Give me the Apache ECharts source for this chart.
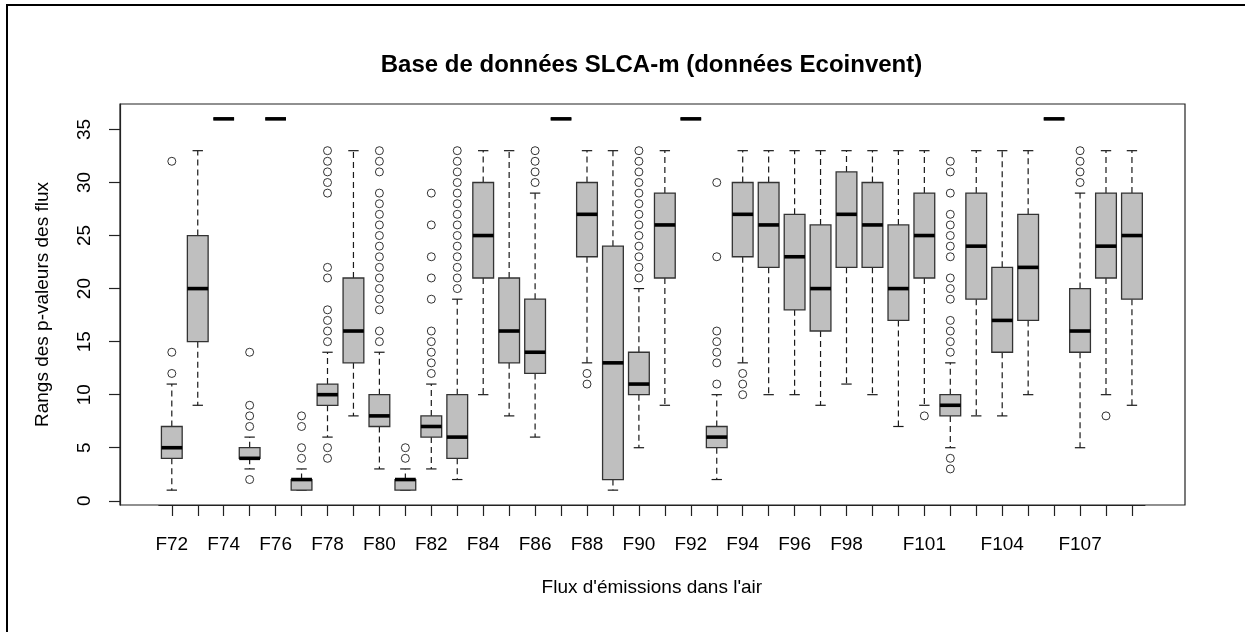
<!DOCTYPE html>
<html>
<head>
<meta charset="utf-8">
<script src="https://cdn.jsdelivr.net/npm/echarts@6/dist/echarts.min.js"></script>
<style>
html,body{margin:0;padding:0;background:#fff;}
#chart{width:1245px;height:632px;}
</style>
</head>
<body>
<div id="chart"></div>
<script>
const categories = ['F72','F73','F74','F75','F76','F77','F78','F79','F80','F81','F82','F83','F84','F85','F86','F87','F88','F89','F90','F91','F92','F93','F94','F95','F96','F97','F98','F99','F100','F101','F102','F103','F104','F105','F106','F107','F108','F109'];
const shownLabels = ['F72','F74','F76','F78','F80','F82','F84','F86','F88','F90','F92','F94','F96','F98','F101','F104','F107'];
const yTicks = [0,5,10,15,20,25,30,35];

const lowWhisker  = [1, 9,36,3,36,1, 6, 8,3,1,3,2,10, 8, 6,36,13, 1, 5, 9,36,2,13,10,10, 9,11,10, 7, 9,5, 8, 8,10,36, 5,10, 9];
const q1          = [4,15,36,4,36,1, 9,13,7,1,6,4,21,13,12,36,23, 2,10,21,36,5,23,22,18,16,22,22,17,21,8,19,14,17,36,14,21,19];
const median      = [5,20,36,4,36,2,10,16,8,2,7,6,25,16,14,36,27,13,11,26,36,6,27,26,23,20,27,26,20,25,9,24,17,22,36,16,24,25];
const q3          = [7,25,36,5,36,2,11,21,10,2,8,10,30,21,19,36,30,24,14,29,36,7,30,30,27,26,31,30,26,29,10,29,22,27,36,20,29,29];
const highWhisker = [11,33,36,6,36,3,14,33,14,3,11,19,33,33,29,36,33,33,20,33,36,10,33,33,33,33,33,33,33,33,13,33,33,33,36,29,33,33];

const outliers = [
  [12,14,32],
  [],
  [],
  [2,7,8,9,14],
  [],
  [4,5,7,8],
  [4,5,15,16,17,18,21,22,29,30,31,32,33],
  [],
  [15,16,18,19,20,21,22,23,24,25,26,27,28,29,31,32,33],
  [4,5],
  [12,13,14,15,16,19,21,23,26,29],
  [20,21,22,23,24,25,26,27,28,29,30,31,32,33],
  [],
  [],
  [30,31,32,33],
  [],
  [11,12],
  [],
  [21,22,23,24,25,26,27,28,29,30,31,32,33],
  [],
  [],
  [11,13,14,15,16,23,30],
  [10,11,12],
  [],
  [],
  [],
  [],
  [],
  [],
  [8],
  [3,4,14,15,16,17,19,20,21,23,24,25,26,27,29,31,32],
  [],
  [],
  [],
  [],
  [30,31,32,33],
  [8],
  []
];

const boxData = categories.map((c, i) => [i, lowWhisker[i], q1[i], median[i], q3[i], highWhisker[i]]);
const outlierData = [];
outliers.forEach((arr, i) => arr.forEach(v => outlierData.push([i, v])));

const FONT = '"Liberation Sans", Arial, sans-serif';
const INK = '#1a1a1a';

function renderBox(params, api) {
  const x = api.value(0);
  const lo = api.value(1), a = api.value(2), m = api.value(3), b = api.value(4), hi = api.value(5);
  const band = api.size([1, 0])[0];
  const bw = band * 0.8;
  const cap = bw * 0.5;
  const pLo = api.coord([x, lo]);
  const pQ1 = api.coord([x, a]);
  const pMed = api.coord([x, m]);
  const pQ3 = api.coord([x, b]);
  const pHi = api.coord([x, hi]);
  const cx = pMed[0];
  const children = [];
  const dash = {stroke: INK, lineWidth: 1.2, lineDash: [6, 4]};
  const solid = {stroke: INK, lineWidth: 1.2};
  if (pLo[1] !== pQ1[1]) {
    children.push({type:'line', shape:{x1:cx, y1:pQ1[1], x2:cx, y2:pLo[1]}, style:dash});
  }
  if (pHi[1] !== pQ3[1]) {
    children.push({type:'line', shape:{x1:cx, y1:pQ3[1], x2:cx, y2:pHi[1]}, style:dash});
  }
  children.push({type:'line', shape:{x1:cx-cap/2, y1:pLo[1], x2:cx+cap/2, y2:pLo[1]}, style:solid});
  children.push({type:'line', shape:{x1:cx-cap/2, y1:pHi[1], x2:cx+cap/2, y2:pHi[1]}, style:solid});
  children.push({type:'rect', shape:{x:cx-bw/2, y:pQ3[1], width:bw, height:pQ1[1]-pQ3[1]},
    style:{fill:'#bfbfbf', stroke:'#333', lineWidth:1.3}});
  children.push({type:'line', shape:{x1:cx-bw/2, y1:pMed[1], x2:cx+bw/2, y2:pMed[1]},
    style:{stroke:'#000', lineWidth:3.6}});
  return {type:'group', children};
}

const chart = echarts.init(document.getElementById('chart'), null, {renderer:'canvas'});
const band = 25.95;
const plotLeft = 120, plotRight = 1185, plotTop = 104, plotBottom = 505;
const firstCenter = 171.8;
const g1Left = firstCenter - band/2;
const g1Width = band * categories.length;

chart.setOption({
  animation: false,
  backgroundColor: '#fff',
  title: {
    text: 'Base de données SLCA-m (données Ecoinvent)',
    left: (plotLeft + plotRight) / 2 - 6,
    textAlign: 'center',
    top: 48,
    textStyle: {fontFamily: FONT, fontSize: 24, fontWeight: 'bold', color: '#000'}
  },
  graphic: [{
    type: 'rect',
    shape: {x: 7, y: 5, width: 1250, height: 650},
    style: {fill: 'none', stroke: '#000', lineWidth: 2}
  }],
  grid: [
    {left: plotLeft, top: plotTop, width: plotRight - plotLeft, height: plotBottom - plotTop,
     show: true, borderColor: '#222', borderWidth: 1.2, backgroundColor: 'transparent'},
    {left: g1Left, top: plotTop, width: g1Width, height: plotBottom - plotTop}
  ],
  xAxis: [
    {gridIndex: 0, type: 'value', min: 0, max: 1, show: false},
    {gridIndex: 1, type: 'category', data: categories, boundaryGap: true, position: 'bottom',
     axisLine: {show: true, onZero: false, lineStyle: {color: '#222', width: 1.2}},
     axisTick: {show: true, inside: false, interval: 0, alignWithLabel: true, length: 11, lineStyle: {color: '#222', width: 1.2}},
     axisLabel: {interval: (idx, val) => shownLabels.includes(val), fontFamily: FONT, fontSize: 19, color: '#000', margin: 30},
     name: "Flux d'émissions dans l'air", nameLocation: 'middle', nameGap: 73,
     nameTextStyle: {fontFamily: FONT, fontSize: 19, color: '#000'},
     splitLine: {show: false}}
  ],
  yAxis: [
    {gridIndex: 0, type: 'value', min: -0.4, max: 37.4,
     axisLine: {show: true, lineStyle: {color: '#222', width: 1.2}},
     axisTick: {show: true, length: 11, customValues: yTicks, lineStyle: {color: '#222', width: 1.2}},
     axisLabel: {customValues: yTicks, rotate: 90, fontFamily: FONT, fontSize: 19, color: '#000', margin: 26},
     splitLine: {show: false},
     name: 'Rangs des p-valeurs des flux', nameLocation: 'middle', nameGap: 68, nameRotate: 90,
     nameTextStyle: {fontFamily: FONT, fontSize: 19, color: '#000'}},
    {gridIndex: 1, type: 'value', min: -0.4, max: 37.4, show: false}
  ],
  series: [
    {type: 'custom', xAxisIndex: 1, yAxisIndex: 1, data: boxData,
     encode: {x: 0, y: [1,2,3,4,5]}, renderItem: renderBox, z: 2},
    {type: 'scatter', xAxisIndex: 1, yAxisIndex: 1, data: outlierData,
     symbol: 'circle', symbolSize: 8,
     itemStyle: {color: 'transparent', borderColor: '#000', borderWidth: 1}, z: 3}
  ]
});
</script>
</body>
</html>
